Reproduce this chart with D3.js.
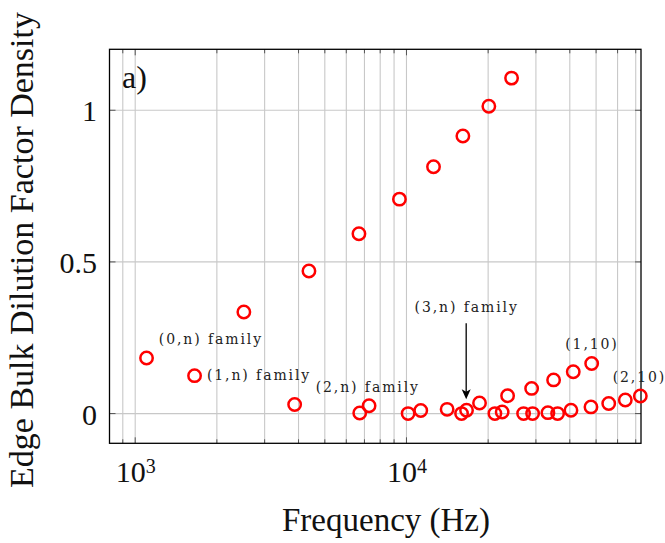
<!DOCTYPE html>
<html><head><meta charset="utf-8">
<script src="https://cdn.jsdelivr.net/npm/d3@7"></script>
<style>body{margin:0;background:#fff} svg{display:block}</style>
</head><body><svg id="c" width="665" height="543"></svg>
<script>
// ---- data ----
const frequencies = [1101, 1655, 2515, 3870, 4370, 6680, 6725, 7280, 9420, 10140, 11290, 12580, 14120, 15960, 16140, 16650, 18590, 20120, 21180, 22530, 23590, 24400, 27020, 28930, 29170, 33220, 34860, 36070, 40400, 41190, 47870, 48160, 55660, 64070, 72780];
const densities   = [0.183, 0.125, 0.335, 0.030, 0.470, 0.593, 0.002, 0.026, 0.707, 0.000, 0.010, 0.814, 0.014, 0.000, 0.915, 0.011, 0.035, 1.013, 0.000, 0.005, 0.059, 1.106, 0.000, 0.083, 0.000, 0.003, 0.111, 0.000, 0.011, 0.138, 0.022, 0.165, 0.033, 0.045, 0.058];
const yTicks = [0, 0.5, 1];
const yTickLabels = ["0", "0.5", "1"];
const xTicks = [1000, 10000];
const xTickBases = ["10", "10"];
const xTickExponents = ["3", "4"];
const annotationTexts = ["(0,n) family", "(1,n) family", "(2,n) family", "(3,n) family", "(1,10)", "(2,10)"];
const annotationFreqs = [1222, 1838, 4627, 16670, 48290, 57570];
const annotationValues = [0.245, 0.126, 0.0887, 0.350, 0.2285, 0.1217];
const annotationAnchors = ["start", "start", "start", "middle", "middle", "start"];
const arrowFreq = 16600, arrowFrom = 0.2977, arrowTo = 0.047;
const panelLabel = "a)";
const xTitle = "Frequency (Hz)";
const yTitle = "Edge Bulk Dilution Factor Density";

// ---- layout ----
const L = 109.5, R = 641, T = 49.3, B = 443.3;
const svg = d3.select("#c");
const x = d3.scaleLog().domain([804, 73200]).range([L, R]);
const y = d3.scaleLinear().domain([-0.098, 1.201]).range([B, T]);
const serif = "'Liberation Serif', 'Times New Roman', serif";

// grid
const allX = x.ticks();
const gGrid = svg.append("g").attr("stroke", "#c8c8c8").attr("stroke-width", 1.1);
gGrid.selectAll("line.vx").data(allX).join("line")
  .attr("x1", d => x(d)).attr("x2", d => x(d)).attr("y1", T).attr("y2", B);
gGrid.selectAll("line.hy").data(yTicks).join("line")
  .attr("x1", L).attr("x2", R).attr("y1", d => y(d)).attr("y2", d => y(d));

// inner tick marks
const isMajor = d => Math.abs(Math.log10(d) - Math.round(Math.log10(d))) < 1e-9;
const gT = svg.append("g").attr("stroke", "#555").attr("stroke-width", 1);
gT.selectAll("line.b").data(allX).join("line")
  .attr("x1", d => x(d)).attr("x2", d => x(d)).attr("y1", B).attr("y2", d => B - (isMajor(d) ? 6 : 4));
gT.selectAll("line.t").data(allX).join("line")
  .attr("x1", d => x(d)).attr("x2", d => x(d)).attr("y1", T).attr("y2", d => T + (isMajor(d) ? 6 : 4));
gT.selectAll("line.l").data(yTicks).join("line")
  .attr("x1", L).attr("x2", L + 6).attr("y1", d => y(d)).attr("y2", d => y(d));
gT.selectAll("line.r").data(yTicks).join("line")
  .attr("x1", R).attr("x2", R - 6).attr("y1", d => y(d)).attr("y2", d => y(d));

// frame
svg.append("rect").attr("x", L).attr("y", T).attr("width", R - L).attr("height", B - T)
  .attr("fill", "none").attr("stroke", "#000").attr("stroke-width", 1.3);

// axes labels
const yAxis = d3.axisLeft(y).tickValues(yTicks).tickSize(0).tickPadding(12.5)
  .tickFormat((d, i) => yTickLabels[i]);
const gy = svg.append("g").attr("transform", `translate(${L},0)`).call(yAxis);
gy.select(".domain").remove();
gy.selectAll("text").attr("font-family", serif).attr("font-size", 30).attr("fill", "#111").attr("dy", "0.35em");

const xAxis = d3.axisBottom(x).tickValues(xTicks).tickSize(0).tickPadding(17)
  .tickFormat((d, i) => xTickBases[i]);
const gx = svg.append("g").attr("transform", `translate(0,${B})`).call(xAxis);
gx.select(".domain").remove();
gx.selectAll("text").attr("font-family", serif).attr("font-size", 30).attr("fill", "#111")
  .each(function(d, i) {
    d3.select(this).append("tspan").attr("font-size", 20).attr("dy", -9).text(xTickExponents[i]);
  });

// points
svg.append("g").selectAll("circle")
  .data(frequencies.map((f, i) => [f, densities[i]])).join("circle")
  .attr("cx", d => x(d[0])).attr("cy", d => y(d[1])).attr("r", 6.2)
  .attr("fill", "none").attr("stroke", "#ff0000").attr("stroke-width", 2.5);

// annotations
svg.append("g").selectAll("text").data(annotationTexts).join("text")
  .attr("x", (d, i) => x(annotationFreqs[i])).attr("y", (d, i) => y(annotationValues[i]))
  .attr("dy", "0.35em").attr("text-anchor", (d, i) => annotationAnchors[i])
  .attr("font-family", "'DejaVu Serif', serif").attr("font-size", 14)
  .attr("letter-spacing", 1.9).attr("fill", "#222").text(d => d);

// arrow
const ax = x(arrowFreq), ay1 = y(arrowFrom), ay2 = y(arrowTo);
svg.append("line").attr("x1", ax).attr("x2", ax).attr("y1", ay1).attr("y2", ay2 - 7)
  .attr("stroke", "#000").attr("stroke-width", 1.3);
svg.append("path").attr("d", `M${ax},${ay2} L${ax - 4.5},${ay2 - 10} L${ax},${ay2 - 7.5} L${ax + 4.5},${ay2 - 10} Z`)
  .attr("fill", "#000");

// panel label
svg.append("text").attr("x", 122).attr("y", 88).attr("font-family", serif).attr("font-size", 32)
  .attr("fill", "#111").text(panelLabel);

// titles
svg.append("text").attr("x", 386).attr("y", 530.7).attr("text-anchor", "middle")
  .attr("font-family", serif).attr("font-size", 33).attr("fill", "#111").text(xTitle);
svg.append("text").attr("transform", "translate(33.3,250) rotate(-90)").attr("text-anchor", "middle")
  .attr("font-family", serif).attr("font-size", 34).attr("fill", "#111").text(yTitle);
</script>
</body></html>
